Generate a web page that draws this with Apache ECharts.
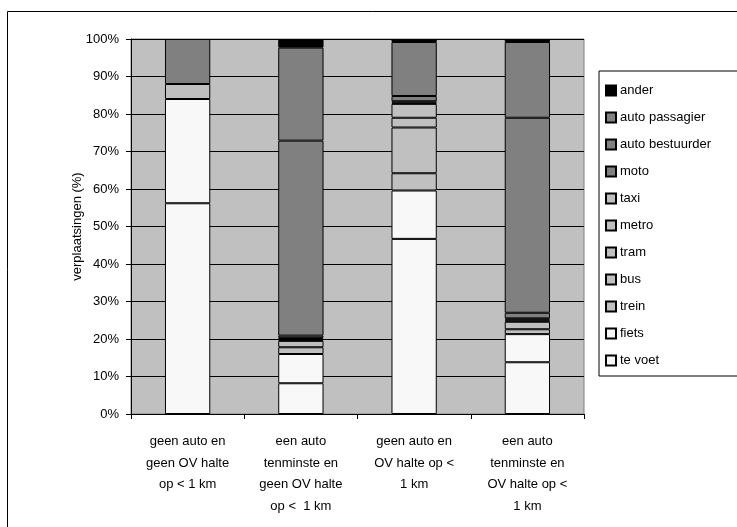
<!DOCTYPE html>
<html>
<head>
<meta charset="utf-8">
<script src="https://cdn.jsdelivr.net/npm/echarts@6/dist/echarts.min.js"></script>
<style>html,body{margin:0;padding:0;background:#fff}#c{width:737px;height:527px}</style>
</head>
<body>
<div id="c"></div>
<script>
const categories = [
  'geen auto en\ngeen OV halte\nop < 1 km',
  'een auto\ntenminste en\ngeen OV halte\nop <  1 km',
  'geen auto en\nOV halte op <\n1 km',
  'een auto\ntenminste en\nOV halte op <\n1 km'
];
const yTicks = [0, 10, 20, 30, 40, 50, 60, 70, 80, 90, 100];
const teVoet = [56.2, 8.2, 46.7, 13.8];
const fiets = [27.8, 7.8, 12.9, 7.5];
const trein = [0, 1.8, 4.6, 1.3];
const bus = [4.0, 1.7, 12.2, 2.0];
const tram = [0, 0.3, 2.6, 0.3];
const metro = [0, 0.2, 3.7, 0.3];
const taxi = [0, 0.3, 0.3, 0.3];
const moto = [0, 0.6, 0.4, 1.5];
const autoBestuurder = [0, 52.0, 1.4, 52.0];
const autoPassagier = [12.0, 24.8, 14.4, 20.2];
const ander = [0, 2.3, 0.8, 0.8];

const seriesDefs = [
  ['te voet', teVoet, '#f8f8f8'],
  ['fiets', fiets, '#f8f8f8'],
  ['trein', trein, '#c0c0c0'],
  ['bus', bus, '#c0c0c0'],
  ['tram', tram, '#c0c0c0'],
  ['metro', metro, '#c0c0c0'],
  ['taxi', taxi, '#c0c0c0'],
  ['moto', moto, '#808080'],
  ['auto bestuurder', autoBestuurder, '#808080'],
  ['auto passagier', autoPassagier, '#808080'],
  ['ander', ander, '#000000']
];

const font = 'Liberation Sans, Arial, sans-serif';
const chart = echarts.init(document.getElementById('c'), null, {renderer: 'canvas'});
chart.setOption({
  animation: false,
  textStyle: {fontFamily: font},
  graphic: [{
    type: 'rect', z: -10,
    shape: {x: 7.5, y: 11.5, width: 800, height: 600},
    style: {fill: '#fff', stroke: '#000', lineWidth: 1}
  }],
  grid: {left: 131, right: 153, top: 39, bottom: 113, show: true,
         backgroundColor: '#c0c0c0', borderColor: '#808080', borderWidth: 1},
  legend: {
    orient: 'vertical', left: 599, top: 71,
    data: seriesDefs.map(s => s[0]).reverse(),
    itemWidth: 10, itemHeight: 10, itemGap: 14,
    icon: 'rect',
    borderColor: '#000', borderWidth: 1,
    padding: [13, 40, 9, 6],
    textStyle: {fontFamily: font, fontSize: 13, color: '#000', padding: [0, 0, 0, -1]}
  },
  xAxis: {
    type: 'category', data: categories,
    axisLine: {lineStyle: {color: '#000', width: 1}},
    axisTick: {show: true, length: 5, lineStyle: {color: '#000'}},
    axisLabel: {fontFamily: font, fontSize: 13, color: '#000', lineHeight: 21.5, margin: 17, interval: 0}
  },
  yAxis: {
    type: 'value', min: yTicks[0], max: yTicks[yTicks.length - 1], interval: 10,
    name: 'verplaatsingen (%)', nameLocation: 'middle', nameGap: 47, nameRotate: 90,
    nameMoveOverlap: false,
    nameTextStyle: {fontFamily: font, fontSize: 13, color: '#000'},
    axisLine: {show: true, lineStyle: {color: '#000', width: 1}},
    axisTick: {show: true, length: 5, lineStyle: {color: '#000'}},
    axisLabel: {fontFamily: font, fontSize: 13, color: '#000', margin: 12, formatter: v => v + '%'},
    splitLine: {show: true, lineStyle: {color: '#000', width: 1}}
  },
  series: seriesDefs.map(([name, vals, color]) => ({
    name, type: 'bar', stack: 'total', barWidth: '40%',
    data: vals.map(v => v === 0 ? '-' : v),
    itemStyle: {color, borderColor: '#000', borderWidth: 1}
  }))
});
</script>
</body>
</html>
